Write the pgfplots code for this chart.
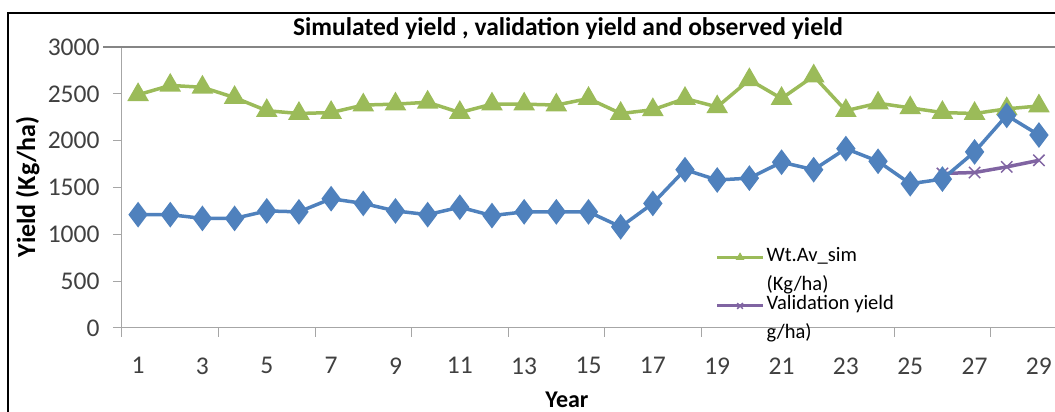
\documentclass[border=0pt]{standalone}
\usepackage{fontspec}
\setmainfont{Carlito}
\usepackage{pgfplots}
\pgfplotsset{compat=1.18}
\definecolor{simgreen}{HTML}{9BBB59}
\definecolor{obsblue}{HTML}{4F81BD}
\definecolor{valpurple}{HTML}{8064A2}
\definecolor{axisgray}{HTML}{A6A6A6}
\definecolor{labelgray}{HTML}{404040}
\begin{document}
\begin{tikzpicture}
\useasboundingbox (-122pt,-84pt) rectangle (933pt,328pt);
\draw[black, line width=1.6pt] (-114pt,-95pt) -- (-114pt,315pt) -- (940pt,315pt);
\node[font=\bfseries\fontsize{25.5}{28}\selectfont] at (446pt,299pt) {Simulated yield , validation yield and observed yield};
\begin{axis}[
  at={(0pt,0pt)}, anchor=south west,
  scale only axis, width=933pt, height=281pt,
  xmin=0.5, xmax=29.5, ymin=0, ymax=3000,
  clip=false,
  axis x line*=bottom, axis y line*=left,
  axis line style={draw=axisgray, line width=1pt},
  tick align=outside, major tick length=9pt,
  tick style={draw=axisgray, line width=1pt},
  ytick={0,500,...,3000},
  xtick={0.5,3.5,...,27.5}, xticklabels={,,,,,,,,,,},
  extra x ticks={1,3,...,29},
  extra x tick style={major tick length=0pt},
  extra x tick label={\pgfmathprintnumber{\tick}},
  /pgf/number format/assume math mode=true,
  /pgf/number format/1000 sep={},
  ticklabel style={font=\fontsize{25.5}{28}\selectfont, text=labelgray},
  yticklabel style={xshift=-10pt},
  xticklabel style={yshift=-26pt},
  legend cell align=left,
  legend style={draw=none, fill=none, at={(axis cs:18.85,910)}, anchor=north west,
    font=\fontsize{20.5}{29}\selectfont, nodes={align=left}, row sep=0pt},
  legend image code/.code={
    \draw[#1, line width=3pt] (0pt,12pt) -- (46pt,12pt);
    \draw[#1, line width=1pt, mark size=4pt, mark repeat=2, mark phase=2] plot coordinates {(0pt,12pt) (23pt,12pt) (46pt,12pt)};
  },
]
\addplot[simgreen, line width=3.5pt, mark=triangle*, mark size=9pt, mark options={solid}] coordinates {
 (1,2490) (2,2590) (3,2570) (4,2460) (5,2320) (6,2290) (7,2300) (8,2380) (9,2390) (10,2410)
 (11,2300) (12,2390) (13,2390) (14,2380) (15,2450) (16,2290) (17,2330) (18,2450) (19,2360) (20,2650)
 (21,2450) (22,2690) (23,2320) (24,2400) (25,2350) (26,2300) (27,2290) (28,2340) (29,2370)
};
\addlegendentry{Wt.Av\_sim\\(Kg/ha)}
\addplot[valpurple, line width=3.5pt, mark=x, mark size=8pt, mark options={line width=1.5pt}] coordinates {
 (26,1650) (27,1660) (28,1720) (29,1790)
};
\addlegendentry{Validation yield\\g/ha)}
\addplot[obsblue, line width=3.5pt, mark=diamond*, mark size=10pt, forget plot] coordinates {
 (1,1210) (2,1210) (3,1170) (4,1170) (5,1250) (6,1240) (7,1380) (8,1330) (9,1250) (10,1210)
 (11,1290) (12,1200) (13,1240) (14,1240) (15,1240) (16,1080) (17,1330) (18,1690) (19,1580) (20,1600)
 (21,1770) (22,1690) (23,1915) (24,1780) (25,1540) (26,1590) (27,1880) (28,2270) (29,2060)
};
\draw[axisgray!80!black, line width=1.5pt] (rel axis cs:-0.02,1) -- (rel axis cs:1.05,1);
\node[font=\bfseries\fontsize{26}{30}\selectfont, rotate=90] at (rel axis cs:-0.101,0.502) {Yield (Kg/ha)};
\node[font=\bfseries\fontsize{24}{28}\selectfont] at (axis cs:14.33,-770) {Year};
\end{axis}
\end{tikzpicture}
\end{document}
